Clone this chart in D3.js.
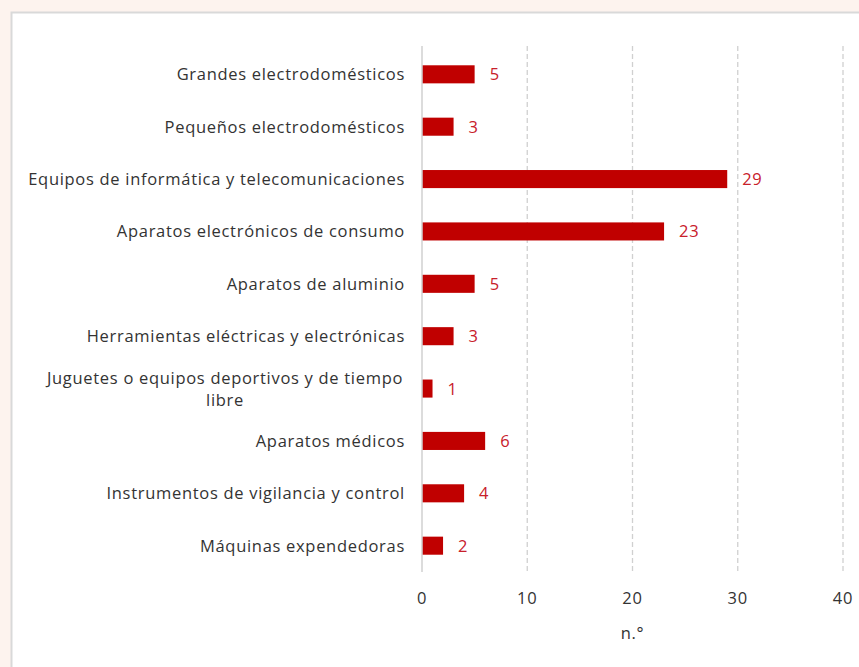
<!DOCTYPE html>
<html>
<head>
<meta charset="utf-8">
<script src="https://cdn.jsdelivr.net/npm/d3@7"></script>
<style>
  html, body { margin: 0; padding: 0; background: #fdf3ee; }
  svg { display: block; }
  text { letter-spacing: 0.7px; }
</style>
</head>
<body>
<svg id="chart" width="859" height="667"></svg>
<script>
// Number of devices per category
const categories = [
  "Grandes electrodomésticos",
  "Pequeños electrodomésticos",
  "Equipos de informática y telecomunicaciones",
  "Aparatos electrónicos de consumo",
  "Aparatos de aluminio",
  "Herramientas eléctricas y electrónicas",
  "Juguetes o equipos deportivos y de tiempo libre",
  "Aparatos médicos",
  "Instrumentos de vigilancia y control",
  "Máquinas expendedoras"
];
const values = [5, 3, 29, 23, 5, 3, 1, 6, 4, 2];
const xTicks = [0, 10, 20, 30, 40];
const xTitle = "n.°";

const svg = d3.select("#chart");
const font = "'Open Sans', sans-serif";
const fs = 16.5;

// white panel
svg.append("rect")
  .attr("x", 11.5).attr("y", 12.5)
  .attr("width", 900).attr("height", 700)
  .attr("fill", "#ffffff")
  .attr("stroke", "#d9d9d9").attr("stroke-width", 2);

const x = d3.scaleLinear().domain([0, 40]).range([422, 843]);
const y = d3.scaleBand().domain(categories).range([48, 572]).paddingInner(0.655).paddingOuter(0.33);

// gridlines
svg.append("g").selectAll("line").data(xTicks.filter(t => t > 0)).join("line")
  .attr("x1", d => x(d)).attr("x2", d => x(d))
  .attr("y1", 46).attr("y2", 572)
  .attr("stroke", "#d0d0d0").attr("stroke-width", 1.3)
  .attr("stroke-dasharray", "5,3");

// bars
svg.append("g").selectAll("rect").data(values).join("rect")
  .attr("x", x(0))
  .attr("y", (d, i) => y(categories[i]))
  .attr("width", d => x(d) - x(0))
  .attr("height", y.bandwidth())
  .attr("fill", "#c00000");

// zero axis line
svg.append("line")
  .attr("x1", x(0)).attr("x2", x(0))
  .attr("y1", 46).attr("y2", 572)
  .attr("stroke", "#d0d0d0").attr("stroke-width", 1.5);

// value labels
svg.append("g").selectAll("text").data(values).join("text")
  .attr("x", d => x(d) + 15)
  .attr("y", (d, i) => y(categories[i]) + y.bandwidth() / 2)
  .attr("dy", "0.36em")
  .attr("font-family", font).attr("font-size", fs)
  .attr("fill", "#c8202a")
  .text(d => d);

// category labels (wrap the long one)
const labelG = svg.append("g");
categories.forEach((c, i) => {
  const cy = y(c) + y.bandwidth() / 2;
  const lines = c === "Juguetes o equipos deportivos y de tiempo libre"
    ? ["Juguetes o equipos deportivos y de tiempo", "libre"] : [c];
  const t = labelG.append("text")
    .attr("font-family", font).attr("font-size", fs)
    .attr("fill", "#333333").attr("text-anchor", "middle");
  if (lines.length === 1) {
    t.attr("text-anchor", "end").attr("x", 405).attr("y", cy).attr("dy", "0.36em").text(c);
  } else {
    lines.forEach((l, k) => {
      t.append("tspan").attr("x", 225).attr("y", cy + (k - 0.5) * 22).attr("dy", "0.36em").text(l);
    });
  }
});

// x tick labels
svg.append("g").selectAll("text").data(xTicks).join("text")
  .attr("x", d => x(d)).attr("y", 598).attr("dy", "0.36em")
  .attr("text-anchor", "middle")
  .attr("font-family", font).attr("font-size", fs)
  .attr("fill", "#333333")
  .text(d => d);

// axis title
svg.append("text")
  .attr("x", x(20)).attr("y", 633).attr("dy", "0.36em")
  .attr("text-anchor", "middle")
  .attr("font-family", font).attr("font-size", fs)
  .attr("fill", "#333333")
  .text(xTitle);
</script>
</body>
</html>
